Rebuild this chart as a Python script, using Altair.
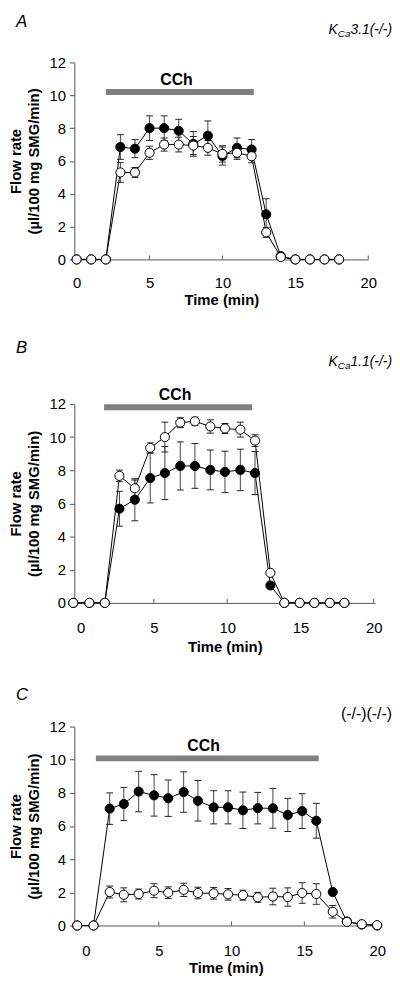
import altair as alt
import pandas as pd

FONT = "Liberation Sans"

# ---------------- Panel A : KCa3.1(-/-) ----------------
tA = [0, 1, 2, 3, 4, 5, 6, 7, 8, 9, 10, 11, 12, 13, 14, 15, 16, 17, 18]
fillA = [0, 0, 0, 6.85, 6.75, 8.0, 8.0, 7.84, 7.04, 7.54, 6.3, 6.8, 6.7, 2.75, 0.2, 0, 0, 0, 0]
fillA_err = [0, 0, 0, 0.75, 0.55, 0.75, 0.75, 0.7, 0.75, 0.9, 0.55, 0.6, 0.6, 0.95, 0, 0, 0, 0, 0]
openA = [0, 0, 0, 5.3, 5.3, 6.5, 7.0, 7.0, 6.94, 6.8, 6.43, 6.5, 6.29, 1.65, 0.15, 0, 0, 0, 0]
openA_err = [0, 0, 0, 0.6, 0.3, 0.4, 0.4, 0.45, 0.55, 0.45, 0.5, 0.4, 0.4, 0.3, 0, 0, 0, 0, 0]
cchA = [2.0, 12.15, 10.2]        # start, end, level
cchA_lbl = [6.85, 10.95]          # label position (min, flow)

# ---------------- Panel B : KCa1.1(-/-) ----------------
tB = [-0.5, 0.6, 1.65, 2.65, 3.7, 4.75, 5.75, 6.8, 7.8, 8.85, 9.85, 10.9, 11.9, 12.95, 13.9, 14.95, 15.95, 17.0, 18.0]
fillB = [0, 0, 0, 5.68, 6.22, 7.53, 7.83, 8.26, 8.26, 8.02, 7.9, 8.02, 7.83, 1.05, 0, 0, 0, 0, 0]
fillB_err = [0, 0, 0, 1.05, 1.27, 1.5, 1.6, 1.45, 1.35, 1.2, 1.25, 1.25, 1.3, 0, 0, 0, 0, 0, 0]
openB = [0, 0, 0, 7.66, 6.91, 9.35, 10.0, 10.87, 10.95, 10.64, 10.52, 10.45, 9.79, 1.81, 0, 0, 0, 0, 0]
openB_err = [0, 0, 0, 0.35, 0.5, 0.3, 0.9, 0.3, 0.25, 0.4, 0.3, 0.45, 0.35, 0, 0, 0, 0, 0, 0]
cchB = [1.6, 11.7, 11.8]
cchB_lbl = [6.45, 12.53]

# ---------------- Panel C : (-/-)(-/-) ----------------
tC = [-0.6, 0.52, 1.63, 2.6, 3.62, 4.68, 5.65, 6.71, 7.69, 8.77, 9.76, 10.78, 11.8, 12.84, 13.86, 14.85, 15.82, 16.95, 17.92, 18.94, 20.0]
fillC = [0, 0, 7.05, 7.33, 8.08, 7.85, 7.68, 8.05, 7.52, 7.13, 7.13, 6.95, 7.08, 7.07, 6.67, 6.9, 6.32, 2.02, 0.24, 0.06, 0]
fillC_err = [0, 0, 0.95, 1.0, 1.22, 1.25, 1.1, 1.22, 1.22, 1.0, 1.0, 1.1, 0.95, 1.2, 1.0, 1.05, 1.05, 0, 0, 0, 0]
openC = [0, 0, 2.02, 1.85, 1.9, 2.1, 1.98, 2.15, 1.96, 1.94, 1.88, 1.83, 1.7, 1.75, 1.72, 1.96, 1.9, 0.83, 0.22, 0.08, 0.02]
openC_err = [0, 0, 0.36, 0.42, 0.3, 0.42, 0.35, 0.4, 0.35, 0.35, 0.35, 0.3, 0.3, 0.5, 0.55, 0.62, 0.62, 0.38, 0, 0, 0]
cchC = [0.68, 15.98, 10.08]
cchC_lbl = [8.08, 10.8]

x_ticks = [0, 5, 10, 15, 20]
y_ticks = [0, 2, 4, 6, 8, 10, 12]
x_title = "Time (min)"
y_title = ["Flow rate", "(\u00b5l/100 mg SMG/min)"]
cch_text = "CCh"


def panel(t, fm, fe, om, oe, cch, cch_lbl, letter, geno_parts,
          width, height, xdom, lab_pad, tit_pad, letter_y, geno_y):
    rows = []
    for ti, m, e in zip(t, fm, fe):
        rows.append(dict(t=ti, mean=m, err=e, lo=m - e, hi=m + e, series="filled"))
    for ti, m, e in zip(t, om, oe):
        rows.append(dict(t=ti, mean=m, err=e, lo=m - e, hi=m + e, series="open"))
    df = pd.DataFrame(rows)

    xs = alt.Scale(domain=xdom, nice=False, zero=False)
    ys = alt.Scale(domain=[0, 12], nice=False, zero=False)

    x_axis = alt.Axis(values=x_ticks, tickSize=0, labelPadding=lab_pad, labelFontSize=15,
                      labelFont=FONT, labelColor="black", domainColor="#555", domainWidth=1,
                      title=x_title, titleFont=FONT, titleFontSize=15, titleFontWeight="bold",
                      titlePadding=tit_pad, titleColor="black", grid=False,
                      labelFlush=False, labelOverlap=False, format="d")
    y_axis = alt.Axis(values=y_ticks, tickSize=5, tickColor="#555", domainColor="#555",
                      labelPadding=4, labelFontSize=15, labelFont=FONT, labelColor="black",
                      title=y_title, titleFont=FONT, titleFontSize=15, titleFontWeight="bold",
                      titlePadding=7, titleLineHeight=19, titleColor="black",
                      grid=False, format="d")

    def X(f):
        return alt.X(f, scale=xs, axis=x_axis)

    def Y(f):
        return alt.Y(f, scale=ys, axis=y_axis)

    base = alt.Chart(df)

    lines = base.mark_line(color="black", strokeWidth=1).encode(
        x=X("t:Q"), y=Y("mean:Q"), detail="series:N",
    )

    err = base.transform_filter("datum.err > 0")
    err_rule = err.mark_rule(color="#444", strokeWidth=1).encode(
        x=X("t:Q"), y=Y("lo:Q"), y2="hi:Q",
    )
    cap_lo = err.mark_tick(orient="horizontal", size=7, thickness=1, color="#222", opacity=1).encode(
        x=X("t:Q"), y=Y("lo:Q"),
    )
    cap_hi = err.mark_tick(orient="horizontal", size=7, thickness=1, color="#222", opacity=1).encode(
        x=X("t:Q"), y=Y("hi:Q"),
    )

    pts = base.mark_circle(size=85, stroke="black", strokeWidth=1, opacity=1).encode(
        x=X("t:Q"), y=Y("mean:Q"),
        fill=alt.Fill("series:N", scale=alt.Scale(domain=["filled", "open"], range=["black", "white"]),
                      legend=None),
    )

    cch_df = pd.DataFrame({"x0": [cch[0]], "x1": [cch[1]], "y": [cch[2]],
                           "lx": [cch_lbl[0]], "ly": [cch_lbl[1]], "txt": [cch_text]})
    cch_bar = alt.Chart(cch_df).mark_rule(color="#808080", strokeWidth=6).encode(
        x=X("x0:Q"), x2="x1:Q", y=Y("y:Q"),
    )
    cch_txt = alt.Chart(cch_df).mark_text(fontSize=16, fontWeight="bold", color="black", font=FONT).encode(
        x=X("lx:Q"), y=Y("ly:Q"), text="txt:N",
    )

    tick_df = pd.DataFrame({"t": x_ticks[1:], "y": [0] * (len(x_ticks) - 1)})
    inticks = alt.Chart(tick_df).mark_rule(color="#555", strokeWidth=1).encode(
        x=X("t:Q"), y=Y("y:Q"), y2=alt.value(height - 4),
    )

    letter_df = pd.DataFrame({"txt": [letter]})
    letter_mark = alt.Chart(letter_df).mark_text(
        align="left", baseline="middle", fontSize=17, fontStyle="italic", color="black", font=FONT
    ).encode(x=alt.value(-59), y=alt.value(letter_y), text="txt:N")

    layers = [lines, cch_bar, cch_txt, inticks, err_rule, cap_lo, cap_hi, pts, letter_mark]

    # genotype label, built right-to-left from its parts
    right = 321
    for txt, size, dy, italic in reversed(geno_parts):
        gdf = pd.DataFrame({"txt": [txt]})
        layers.append(
            alt.Chart(gdf).mark_text(
                align="right", baseline="middle", fontSize=size, font=FONT,
                fontStyle="italic" if italic else "normal", color="black"
            ).encode(x=alt.value(right), y=alt.value(geno_y + dy), text="txt:N")
        )
        # approximate Arial advance widths
        w = 0
        for ch in txt:
            w += {"K": .667, "C": .722, "a": .556, "3": .556, "1": .556, ".": .278,
                  "(": .333, ")": .333, "-": .333, "/": .278}.get(ch, .556)
        right -= w * size

    return alt.layer(*layers).properties(width=width, height=height)


pA = panel(tA, fillA, fillA_err, openA, openA_err, cchA, cchA_lbl, "A",
           [("K", 14, 0, True), ("Ca", 10, 4, True), ("3.1(-/-)", 14, 0, True)],
           297, 199, [-0.16, 20], 16, 3, -41, -33)
pB = panel(tB, fillB, fillB_err, openB, openB_err, cchB, cchB_lbl, "B",
           [("K", 14, 0, True), ("Ca", 10, 4, True), ("1.1(-/-)", 14, 0, True)],
           304, 201, [-0.43, 20.1], 18, 4, -56, -42)
pC = panel(tC, fillC, fillC_err, openC, openC_err, cchC, cchC_lbl, "C",
           [("(-/-)(-/-)", 16, 0, False)],
           306, 201, [-0.8, 20], 18, 2, -32, -13)

chart = alt.vconcat(pA, pB, pC, spacing=32).properties(
    padding={"left": 0, "top": 0, "right": 0, "bottom": 0},
    background="white",
).configure_view(strokeWidth=0)

chart.save("out.html", embed_options={"renderer": "svg", "actions": False})
